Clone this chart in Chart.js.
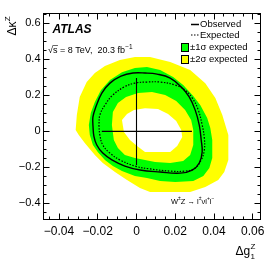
<!DOCTYPE html>
<html><head><meta charset="utf-8">
<script src="https://cdn.jsdelivr.net/npm/chart.js@4.4.1/dist/chart.umd.min.js"></script>
<style>html,body{margin:0;padding:0;background:#fff;}canvas{display:block;}</style>
</head><body>
<canvas id="c" width="274" height="263"></canvas>
<script>
// ---- tick labels ----
const xTicks = [-0.04, -0.02, 0, 0.02, 0.04, 0.06];
const yTicks = [-0.4, -0.2, 0, 0.2, 0.4, 0.6];

// ---- +-2 sigma expected band: outer boundary ----
const band2OuterX = [-0.0314,-0.0308,-0.0293,-0.0257,-0.0215,-0.0163,-0.0086,-0.0008,0.0070,0.0174,0.0277,0.0355,0.0407,0.0443,0.0474,0.0474,0.0453,0.0422,0.0355,0.0277,0.0070,0.0018,-0.0049,-0.0111,-0.0174,-0.0215,-0.0267,-0.0298];
const band2OuterY = [0.007,0.091,0.191,0.274,0.324,0.363,0.396,0.413,0.413,0.385,0.341,0.268,0.185,0.091,-0.021,-0.159,-0.226,-0.271,-0.309,-0.337,-0.337,-0.315,-0.271,-0.226,-0.176,-0.132,-0.065,-0.021];
// ---- +-1 sigma expected band: outer boundary ----
const band1OuterX = [-0.0246,-0.0241,-0.0225,-0.0200,-0.0163,-0.0122,-0.0075,-0.0008,0.0054,0.0122,0.0200,0.0293,0.0345,0.0376,0.0391,0.0391,0.0381,0.0365,0.0329,0.0293,0.0241,0.0189,0.0122,0.0054,-0.0008,-0.0075,-0.0137,-0.0184,-0.0215,-0.0236];
const band1OuterY = [0.035,-0.021,-0.076,-0.115,-0.159,-0.193,-0.221,-0.248,-0.259,-0.276,-0.282,-0.276,-0.248,-0.204,-0.148,-0.048,0.018,0.074,0.146,0.196,0.257,0.302,0.341,0.357,0.352,0.329,0.285,0.229,0.163,0.102];
// ---- +-1 sigma expected band: inner boundary ----
const band1InnerX = [-0.0127,-0.0122,-0.0096,-0.0054,0.0008,0.0080,0.0148,0.0205,0.0251,0.0282,0.0293,0.0293,0.0277,0.0241,0.0174,0.0096,0.0044,-0.0008,-0.0060,-0.0096,-0.0117];
const band1InnerY = [0.035,0.107,0.157,0.191,0.213,0.218,0.202,0.168,0.118,0.063,0.007,-0.076,-0.132,-0.165,-0.176,-0.171,-0.159,-0.148,-0.132,-0.093,-0.048];
// ---- +-2 sigma expected band: inner boundary ----
const band2InnerX = [-0.0075,-0.0049,-0.0013,0.0044,0.0111,0.0163,0.0205,0.0231,0.0236,0.0210,0.0174,0.0044,0.0003,-0.0034,-0.0065];
const band2InnerY = [0.063,0.096,0.118,0.129,0.124,0.096,0.057,0.007,-0.032,-0.082,-0.115,-0.115,-0.082,-0.048,-0.004];
// ---- observed 95% CL contour ----
const observedX = [-0.0225,-0.0220,-0.0205,-0.0174,-0.0127,-0.0060,0.0018,0.0122,0.0225,0.0288,0.0324,0.0339,0.0334,0.0324,0.0303,0.0272,0.0231,0.0174,0.0106,0.0044,-0.0018,-0.0080,-0.0137,-0.0179,-0.0210,-0.0225];
const observedY = [0.035,-0.026,-0.076,-0.121,-0.159,-0.193,-0.215,-0.226,-0.232,-0.215,-0.176,-0.115,-0.048,0.035,0.118,0.191,0.246,0.296,0.318,0.324,0.324,0.307,0.268,0.213,0.135,0.079];
// ---- expected 95% CL contour ----
const expectedX = [-0.0194,-0.0189,-0.0174,-0.0137,-0.0085,-0.0008,0.0070,0.0174,0.0251,0.0303,0.0334,0.0350,0.0350,0.0339,0.0319,0.0288,0.0251,0.0200,0.0122,0.0054,-0.0008,-0.0065,-0.0122,-0.0163,-0.0189];
const expectedY = [0.035,-0.021,-0.076,-0.121,-0.159,-0.193,-0.209,-0.221,-0.221,-0.204,-0.159,-0.104,-0.037,0.035,0.118,0.185,0.229,0.257,0.274,0.274,0.268,0.246,0.202,0.146,0.091];
// ---- 1D 95% CL limits (cross) ----
const limitG1 = [-0.0179, 0.0286];
const limitKappa = [-0.187, 0.296];

function closed(xs, ys) {
  const p = xs.map((x, i) => ({x: x, y: ys[i]}));
  p.push({x: xs[0], y: ys[0]});
  return p;
}
function fmt(v, d) {
  if (Math.abs(v) < 1e-9) return '0';
  return v.toFixed(d).replace('-', '\u2212');
}
const FONT = '"Liberation Sans", Arial, Helvetica, sans-serif';

function bandDS(xs, ys, color, order) {
  return {data: closed(xs, ys), showLine: true, fill: 'shape', backgroundColor: color,
          borderColor: color, borderWidth: 0, pointRadius: 0, tension: 0, order: order};
}

const decor = {
  id: 'decor',
  afterDraw(chart) {
    const ctx = chart.ctx, a = chart.chartArea;
    const xs = chart.scales.x, ys = chart.scales.y;
    const L = a.left, R = a.right, T = a.top, B = a.bottom;
    ctx.save();
    ctx.strokeStyle = '#000'; ctx.lineWidth = 1; ctx.setLineDash([]);
    ctx.strokeRect(L, T, R - L, B - T);
    ctx.beginPath();
    const isMaj = (v, arr) => arr.some(t => Math.abs(t - v) < 1e-9);
    for (let i = -9; i <= 12; i++) {
      const v = i * 0.005;
      if (v < xs.min || v > xs.max) continue;
      const len = isMaj(v, xTicks) ? 6 : 3;
      const px = Math.floor(xs.getPixelForValue(v)) + 0.5;
      ctx.moveTo(px, B); ctx.lineTo(px, B - len);
      ctx.moveTo(px, T); ctx.lineTo(px, T + len);
    }
    for (let i = -9; i <= 13; i++) {
      const v = i * 0.05;
      if (v < ys.min || v > ys.max) continue;
      const len = isMaj(v, yTicks) ? 6 : 3;
      const py = Math.floor(ys.getPixelForValue(v)) + 0.5;
      ctx.moveTo(L, py); ctx.lineTo(L + len, py);
      ctx.moveTo(R, py); ctx.lineTo(R - len, py);
    }
    ctx.stroke();

    ctx.fillStyle = '#000';
    ctx.textBaseline = 'alphabetic';
    ctx.textAlign = 'left';
    // ATLAS label
    ctx.font = 'italic bold 12px ' + FONT;
    ctx.fillText('ATLAS', 52.5, 33);
    // sqrt(s) line
    ctx.font = '9px ' + FONT;
    let x = 48;
    ctx.fillText('\u221A', x, 53);
    x += ctx.measureText('\u221A').width;
    const sw = ctx.measureText('s').width;
    ctx.beginPath(); ctx.lineWidth = 0.6;
    ctx.moveTo(x - 0.5, 45.5); ctx.lineTo(x + sw + 0.5, 45.5); ctx.stroke();
    const t1 = 's = 8 TeV,  20.3 fb';
    ctx.fillText(t1, x, 53);
    x += ctx.measureText(t1).width;
    ctx.font = '6.5px ' + FONT;
    ctx.fillText('\u22121', x + 0.3, 49);

    // legend
    ctx.font = '9.5px ' + FONT;
    ctx.textBaseline = 'middle';
    ctx.lineWidth = 1.5;
    ctx.beginPath(); ctx.moveTo(191, 24.5); ctx.lineTo(199, 24.5); ctx.stroke();
    ctx.fillText('Observed', 200, 24.5);
    ctx.lineWidth = 1.2; ctx.setLineDash([1.5, 1.5]);
    ctx.beginPath(); ctx.moveTo(191, 35); ctx.lineTo(199, 35); ctx.stroke();
    ctx.setLineDash([]);
    ctx.fillText('Expected', 200, 35);
    ctx.lineWidth = 1;
    ctx.fillStyle = '#00ff00'; ctx.fillRect(181.5, 43.5, 7, 8);
    ctx.strokeRect(181.5, 43.5, 7, 8);
    ctx.fillStyle = '#ffff00'; ctx.fillRect(181.5, 55.5, 7, 8);
    ctx.strokeRect(181.5, 55.5, 7, 8);
    ctx.fillStyle = '#000';
    ctx.fillText('\u00B11\u03C3 expected', 190, 47.5);
    ctx.fillText('\u00B12\u03C3 expected', 190, 59.5);

    // process label
    ctx.textBaseline = 'alphabetic';
    const parts = [['W','n'],['\u00B1','s'],['Z \u2192 l','n'],['\u00B1','s'],['\u03BDl','n'],['+','s'],['l','n'],['\u2212','s']];
    x = 171;
    for (const [t, k] of parts) {
      ctx.font = (k === 'n' ? '7.5px ' : '5px ') + FONT;
      ctx.fillText(t, x, k === 'n' ? 203.5 : 200);
      x += ctx.measureText(t).width;
    }

    // x title
    ctx.font = '12px ' + FONT;
    ctx.fillText('\u0394g', 235.5, 254.5);
    let w = ctx.measureText('\u0394g').width;
    ctx.font = '8px ' + FONT;
    ctx.fillText('Z', 235.5 + w + 0.3, 248.5);
    ctx.fillText('1', 235.5 + w + 0.3, 258.5);

    // y title (rotated)
    ctx.translate(15.5, 35.5);
    ctx.rotate(-Math.PI / 2);
    ctx.font = '12px ' + FONT;
    ctx.fillText('\u0394\u03BA', 0, 0);
    w = ctx.measureText('\u0394\u03BA').width;
    ctx.font = '8px ' + FONT;
    ctx.fillText('Z', w + 0.3, -6);
    ctx.restore();
  }
};

new Chart(document.getElementById('c'), {
  type: 'scatter',
  data: {
    datasets: [
      bandDS(band2OuterX, band2OuterY, '#ffff00', 10),
      bandDS(band1OuterX, band1OuterY, '#00ff00', 9),
      bandDS(band1InnerX, band1InnerY, '#ffff00', 8),
      bandDS(band2InnerX, band2InnerY, '#ffffff', 7),
      {data: closed(expectedX, expectedY), showLine: true, fill: false, borderColor: '#000',
       borderWidth: 1.2, borderDash: [1.5, 1.5], pointRadius: 0, tension: 0.4, order: 3},
      {data: closed(observedX, observedY), showLine: true, fill: false, borderColor: '#000',
       borderWidth: 1.4, pointRadius: 0, tension: 0.4, order: 2},
      {data: [{x: 0, y: limitKappa[0]}, {x: 0, y: limitKappa[1]}], showLine: true, fill: false,
       borderColor: '#000', borderWidth: 1.1, pointRadius: 0, order: 1},
      {data: [{x: limitG1[0], y: 0}, {x: limitG1[1], y: 0}], showLine: true, fill: false,
       borderColor: '#000', borderWidth: 1.1, pointRadius: 0, order: 1}
    ]
  },
  options: {
    responsive: false, animation: false, devicePixelRatio: 1,
    layout: {padding: {top: 13.5, right: 13.5, left: 0, bottom: 0}},
    plugins: {legend: {display: false}, tooltip: {enabled: false}},
    scales: {
      x: {type: 'linear', min: -0.048, max: 0.064,
          grid: {display: false, drawTicks: false}, border: {display: false},
          afterBuildTicks: s => { s.ticks = xTicks.map(v => ({value: v})); },
          afterFit: s => { s.height = 43.5; },
          ticks: {font: {family: FONT, size: 12}, color: '#000', padding: 5, maxRotation: 0,
                  autoSkip: false, callback: v => fmt(v, 2)}},
      y: {type: 'linear', min: -0.49, max: 0.655,
          grid: {display: false, drawTicks: false}, border: {display: false},
          afterBuildTicks: s => { s.ticks = yTicks.map(v => ({value: v})); },
          afterFit: s => { s.width = 43.5; },
          ticks: {font: {family: FONT, size: 11}, color: '#000', padding: 3,
                  autoSkip: false, callback: v => fmt(v, 1)}}
    }
  },
  plugins: [decor]
});
</script>
</body></html>
